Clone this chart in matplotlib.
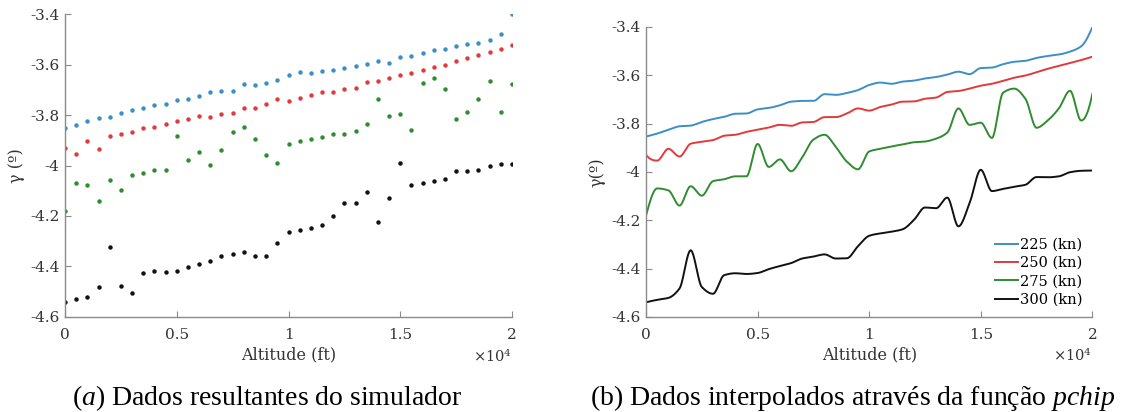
import numpy as np
import matplotlib
matplotlib.use("Agg")
import matplotlib.pyplot as plt

## dados do simulador: gamma (graus) por altitude, para cada velocidade
altitude = np.arange(0, 20500, 500)

gamma_225 = [-3.853, -3.841, -3.825, -3.811, -3.808, -3.793, -3.781, -3.772, -3.759, -3.758,
             -3.741, -3.735, -3.724, -3.709, -3.706, -3.706, -3.678, -3.681, -3.673, -3.661,
             -3.640, -3.630, -3.635, -3.626, -3.622, -3.613, -3.607, -3.597, -3.585, -3.595,
             -3.570, -3.568, -3.554, -3.544, -3.540, -3.528, -3.520, -3.514, -3.502, -3.480,
             -3.401]
gamma_250 = [-3.929, -3.953, -3.904, -3.936, -3.883, -3.875, -3.868, -3.850, -3.846, -3.834,
             -3.825, -3.816, -3.805, -3.809, -3.795, -3.793, -3.773, -3.773, -3.758, -3.737,
             -3.746, -3.731, -3.721, -3.709, -3.708, -3.697, -3.692, -3.669, -3.665, -3.655,
             -3.643, -3.635, -3.623, -3.610, -3.601, -3.587, -3.573, -3.561, -3.549, -3.537,
             -3.523]
gamma_275 = [-4.180, -4.068, -4.076, -4.139, -4.059, -4.098, -4.038, -4.030, -4.018, -4.018,
             -3.884, -3.979, -3.948, -3.997, -3.939, -3.866, -3.846, -3.896, -3.957, -3.989,
             -3.915, -3.904, -3.894, -3.886, -3.877, -3.874, -3.862, -3.837, -3.737, -3.805,
             -3.796, -3.859, -3.672, -3.655, -3.697, -3.817, -3.787, -3.737, -3.664, -3.787,
             -3.677]
gamma_300 = [-4.539, -4.529, -4.521, -4.482, -4.324, -4.476, -4.504, -4.427, -4.419, -4.422,
             -4.418, -4.402, -4.389, -4.377, -4.358, -4.350, -4.341, -4.358, -4.357, -4.307,
             -4.264, -4.254, -4.247, -4.237, -4.199, -4.147, -4.150, -4.106, -4.225, -4.129,
             -3.991, -4.079, -4.070, -4.061, -4.053, -4.021, -4.022, -4.018, -4.001, -3.995,
             -3.994]

labels = ['225 (kn)', '250 (kn)', '275 (kn)', '300 (kn)']
cores = ['#3b8fc6', '#e2393d', '#2f8c2f', '#111111']
series = [gamma_225, gamma_250, gamma_275, gamma_300]

yticks = [-3.4, -3.6, -3.8, -4.0, -4.2, -4.4, -4.6]
ytick_labels = ['-3.4', '-3.6', '-3.8', '-4', '-4.2', '-4.4', '-4.6']
xticks = [0, 5000, 10000, 15000, 20000]
xtick_labels = ['0', '0.5', '1', '1.5', '2']


## interpolacao pchip (Fritsch-Carlson, igual ao matlab)
def pchip(x, y, xq):
    x = np.asarray(x, float)
    y = np.asarray(y, float)
    h = np.diff(x)
    delta = np.diff(y) / h
    n = len(x)
    d = np.zeros(n)
    for k in range(1, n - 1):
        if delta[k - 1] * delta[k] > 0:
            w1 = 2 * h[k] + h[k - 1]
            w2 = h[k] + 2 * h[k - 1]
            d[k] = (w1 + w2) / (w1 / delta[k - 1] + w2 / delta[k])

    def ponta(h0, h1, d0, d1):
        s = ((2 * h0 + h1) * d0 - h0 * d1) / (h0 + h1)
        if np.sign(s) != np.sign(d0):
            s = 0.0
        elif np.sign(d0) != np.sign(d1) and abs(s) > abs(3 * d0):
            s = 3 * d0
        return s

    d[0] = ponta(h[0], h[1], delta[0], delta[1])
    d[-1] = ponta(h[-1], h[-2], delta[-1], delta[-2])

    idx = np.clip(np.searchsorted(x, xq) - 1, 0, n - 2)
    t = (xq - x[idx]) / h[idx]
    h00 = 2 * t**3 - 3 * t**2 + 1
    h10 = t**3 - 2 * t**2 + t
    h01 = -2 * t**3 + 3 * t**2
    h11 = t**3 - t**2
    return h00 * y[idx] + h10 * h[idx] * d[idx] + h01 * y[idx + 1] + h11 * h[idx] * d[idx + 1]


plt.rcParams['font.family'] = ['DejaVu Serif']
plt.rcParams['mathtext.fontset'] = 'custom'
plt.rcParams['mathtext.it'] = 'Liberation Serif:italic'
plt.rcParams['mathtext.rm'] = 'Liberation Serif'

fig = plt.figure(figsize=(11.37, 4.12), dpi=100)
ax1 = fig.add_axes([0.0572, 0.2306, 0.3931, 0.7354])
ax2 = fig.add_axes([0.5682, 0.2306, 0.3925, 0.7039])


def estilo(ax, ylabel):
    ax.set_xlim(0, 20000)
    ax.set_ylim(-4.6, -3.4)
    for s in ['top', 'right']:
        ax.spines[s].set_visible(False)
    for s in ['left', 'bottom']:
        ax.spines[s].set_color('#8a8a8a')
        ax.spines[s].set_linewidth(1.0)
    ax.set_yticks(yticks)
    ax.set_yticklabels(ytick_labels)
    ax.set_xticks(xticks)
    ax.set_xticklabels(xtick_labels)
    ax.tick_params(direction='in', length=4, width=0.8, color='#8a8a8a',
                   labelsize=11, labelcolor='#333333')
    ax.tick_params(axis='x', pad=8)
    ax.tick_params(axis='y', pad=4)
    ax.set_xlabel('Altitude (ft)', fontsize=11.5, color='#333333', labelpad=3)
    ax.set_ylabel(ylabel, fontsize=11.5, color='#333333', labelpad=4)
    ax.text(1.0, -0.105, r'×10$^{\mathregular{4}}$', transform=ax.transAxes, ha='right', va='top',
            fontsize=10.5, color='#333333')


## (a) pontos do simulador
for g, c in zip(series, cores):
    ax1.plot(altitude, g, 'o', ms=3.2, color=c, mec='none')
estilo(ax1, 'γ (º)')

## (b) curvas interpoladas
alt_fina = np.linspace(0, 20000, 1601)
for g, c, lab in zip(series, cores, labels):
    ax2.plot(alt_fina, pchip(altitude, g, alt_fina), '-', lw=1.4, color=c, label=lab)
estilo(ax2, 'γ(º)')
ax2.legend(loc='lower right', bbox_to_anchor=(1.0, 0.0), frameon=False, fontsize=10.5,
           handlelength=1.6, handletextpad=0.1, labelspacing=0.3, borderpad=0.2)

fig.text(0.0633, 0.016, r'$\mathit{(a)}$ Dados resultantes do simulador',
         ha='left', va='baseline', fontsize=20, family='Liberation Serif')
fig.text(0.9807, 0.016, r'(b) Dados interpolados através da função $\mathit{pchip}$',
         ha='right', va='baseline', fontsize=20, family='Liberation Serif')

fig.savefig('out.png', dpi=100)
